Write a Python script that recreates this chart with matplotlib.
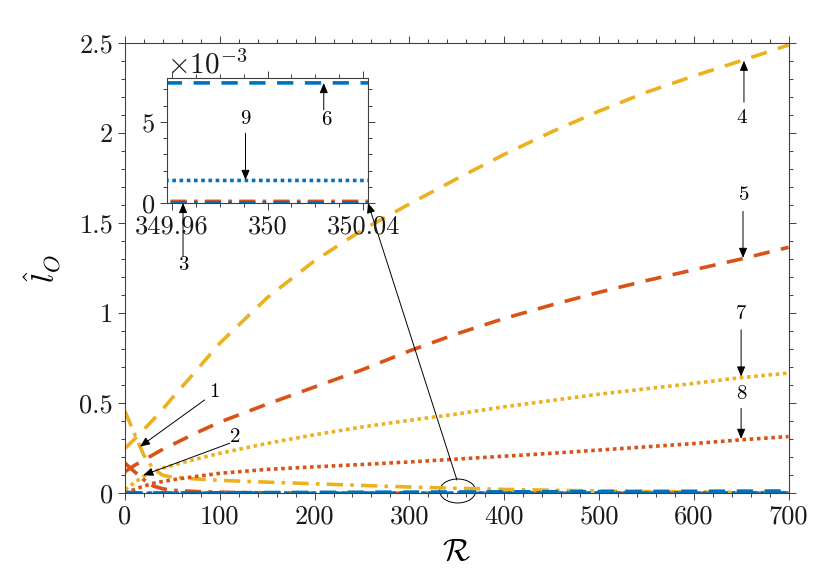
import numpy as np
import matplotlib
matplotlib.use("Agg")
import matplotlib.pyplot as plt
from matplotlib.ticker import MultipleLocator, FuncFormatter, FixedLocator, FixedFormatter
from matplotlib.patches import Ellipse

plt.rcParams['font.family'] = 'serif'
plt.rcParams['font.serif'] = ['cmr10', 'DejaVu Serif']
plt.rcParams['mathtext.fontset'] = 'cm'
plt.rcParams['axes.unicode_minus'] = False
plt.rcParams['axes.formatter.use_mathtext'] = True

# data (R, l_O)
R = [0, 10, 20, 30, 40, 50, 75, 100, 150, 200, 250, 300, 350, 400, 450, 500, 550, 600, 650, 700]

c1 = [0.455, 0.33, 0.21, 0.135, 0.10, 0.09, 0.08, 0.072, 0.062, 0.053, 0.044, 0.035, 0.028, 0.022,
      0.017, 0.013, 0.010, 0.007, 0.005, 0.003]
c2 = [0.167, 0.12, 0.075, 0.04, 0.025, 0.017, 0.010, 0.006, 0.0025, 0.001, 0.0004, 0.0002, 0.0001,
      0.00006, 0.00004, 0.00003, 0.00002, 0.00002, 0.00001, 0.00001]
c3 = [0.006, 0.003, 0.0015, 0.0008, 0.0005, 0.0003, 0.0001, 0.00005, 0.00003, 0.00002, 0.00001,
      0.00001, 0.000005, 0.000005, 0.000004, 0.000004, 0.000003, 0.000003, 0.000003, 0.000002]
c4 = [0.25, 0.30, 0.355, 0.41, 0.468, 0.53, 0.68, 0.833, 1.085, 1.29, 1.46, 1.605, 1.745, 1.88,
      2.005, 2.12, 2.225, 2.315, 2.40, 2.487]
c5 = [0.12, 0.155, 0.185, 0.215, 0.245, 0.27, 0.335, 0.395, 0.495, 0.59, 0.685, 0.79, 0.885, 0.97,
      1.045, 1.115, 1.18, 1.24, 1.30, 1.365]
c6 = [0.0, 0.0004, 0.0008, 0.0011, 0.0014, 0.0017, 0.0024, 0.003, 0.0041, 0.0051, 0.0059, 0.0066,
      0.0074, 0.0082, 0.009, 0.0098, 0.0106, 0.0113, 0.012, 0.0128]
c7 = [0.02, 0.06, 0.095, 0.12, 0.14, 0.155, 0.19, 0.222, 0.277, 0.325, 0.368, 0.405, 0.44, 0.48,
      0.515, 0.55, 0.58, 0.61, 0.642, 0.667]
c8 = [0.0, 0.022, 0.04, 0.056, 0.066, 0.075, 0.094, 0.111, 0.133, 0.147, 0.16, 0.174, 0.19, 0.206,
      0.222, 0.24, 0.258, 0.276, 0.297, 0.315]
c9 = [0.0, 0.00012, 0.00022, 0.0003, 0.00037, 0.00043, 0.00056, 0.00066, 0.00083, 0.00099, 0.00113,
      0.00126, 0.00139, 0.0015, 0.00161, 0.00172, 0.00182, 0.00192, 0.00201, 0.0021]

curves = [c1, c2, c3, c4, c5, c6, c7, c8, c9]

yellow = '#EDB120'
orange = '#D95319'
blue = '#0072BD'
colors = [yellow, orange, blue] * 3
dashdot = (4.5, 2, 1, 2)
dashed = (4.5, 3.2)
dotted = (1, 1)
styles = [dashdot] * 3 + [dashed] * 3 + [dotted] * 3
lw = 2.6

inset_xticks = [349.96, 350, 350.04]
inset_xlabels = ['349.96', '350', '350.04']

axcol = '#404040'
fs = 19


def style_axes(a):
    for s in a.spines.values():
        s.set_color(axcol)
        s.set_linewidth(0.8)
    a.tick_params(which='both', direction='out', top=True, right=True, color=axcol,
                  labelsize=fs, width=0.7, labelcolor='#1a1a1a')
    a.tick_params(which='major', length=5)
    a.tick_params(which='minor', length=3)


fig = plt.figure(figsize=(8.3, 5.81), dpi=100)
ax = fig.add_axes([0.1506, 0.1509, 0.7994, 0.7756])

for y, col, ds in zip(curves, colors, styles):
    ax.plot(R, y, color=col, lw=lw, dashes=ds)

ax.set_xlim(0, 700)
ax.set_ylim(0, 2.5)
ax.xaxis.set_major_locator(MultipleLocator(100))
ax.xaxis.set_minor_locator(MultipleLocator(20))
ax.yaxis.set_major_locator(MultipleLocator(0.5))
ax.yaxis.set_minor_locator(MultipleLocator(0.1))
ax.yaxis.set_major_formatter(FuncFormatter(lambda v, p: f'{v:g}'))
ax.xaxis.set_major_formatter(FuncFormatter(lambda v, p: f'{v:g}'))
style_axes(ax)
ax.set_xlabel(r'$\mathcal{R}$', fontsize=23, labelpad=7)
ax.set_ylabel(r'$\hat{l}_O$', fontsize=23, labelpad=12)

arw = dict(arrowstyle='-|>,head_length=0.6,head_width=0.25', color='k', lw=0.7,
           shrinkA=0, shrinkB=0)
afs = 15

# main-axes labels: (number, tip, tail, text position)
main_notes = [
    ('1', (15.8, 0.259), (84, 0.518), (94.8, 0.56)),
    ('2', (19.3, 0.10), (110.6, 0.278), (116, 0.31)),
    ('4', (653, 2.40), (653, 2.17), (651, 2.08)),
    ('5', (652, 1.306), (652, 1.564), (653, 1.657)),
    ('7', (650, 0.648), (650, 0.907), (650, 0.996)),
    ('8', (650, 0.302), (650, 0.472), (650, 0.552)),
]
for lab, tip, tail, tpos in main_notes:
    ax.annotate('', xy=tip, xytext=tail, arrowprops=arw)
    ax.text(tpos[0], tpos[1], lab, fontsize=afs, ha='center', va='center')

ax.add_patch(Ellipse((351, 0.013), 38, 0.133, fill=False, ec='k', lw=0.7, clip_on=False))

# inset
ax_in = fig.add_axes([0.2012, 0.6506, 0.2422, 0.2151])
for y, col, ds in zip(curves, colors, styles):
    ax_in.plot(R, y, color=col, lw=lw, dashes=ds)
ax_in.set_xlim(349.958, 350.042)
ax_in.set_ylim(0, 7.7e-3)
ax_in.xaxis.set_major_locator(FixedLocator(inset_xticks))
ax_in.xaxis.set_major_formatter(FixedFormatter(inset_xlabels))
ax_in.xaxis.set_minor_locator(MultipleLocator(0.01))
ax_in.yaxis.set_major_locator(MultipleLocator(5e-3))
ax_in.yaxis.set_minor_locator(MultipleLocator(1e-3))
ax_in.ticklabel_format(axis='y', style='sci', scilimits=(0, 0))
style_axes(ax_in)
ax_in.yaxis.get_offset_text().set_fontsize(fs + 2)

inset_notes = [
    ('3', (349.9647, 0.0), (349.9647, -3.3e-3), (349.9647, -3.85e-3)),
    ('9', (349.9908, 1.42e-3), (349.9908, 4.3e-3), (349.9908, 5.17e-3)),
    ('6', (350.0235, 7.39e-3), (350.0235, 5.74e-3), (350.0245, 5.12e-3)),
]
for lab, tip, tail, tpos in inset_notes:
    ax_in.annotate('', xy=tip, xytext=tail, arrowprops=arw, annotation_clip=False)
    ax_in.text(tpos[0], tpos[1], lab, fontsize=afs, ha='center', va='center')

# long arrow from the ellipse to the inset corner
ax.annotate('', xy=(1, 0), xycoords=ax_in.transAxes, xytext=(350.2, 0.074), textcoords='data',
            arrowprops=arw)

fig.savefig('out.png', dpi=100)
